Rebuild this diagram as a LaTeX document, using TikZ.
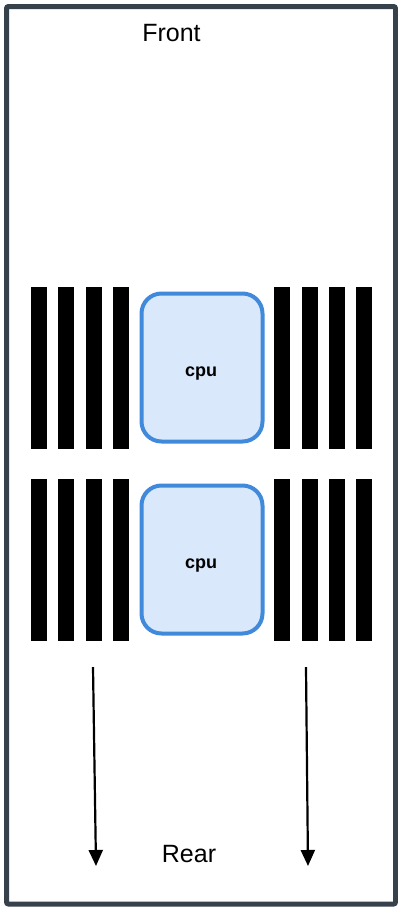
\documentclass[tikz,border=0pt]{standalone}
\usepackage{fontspec}
\setmainfont{Liberation Sans}
\usetikzlibrary{arrows.meta}
\definecolor{frameclr}{HTML}{36414C}
\definecolor{cpufill}{HTML}{DAE8FC}
\definecolor{cpuline}{HTML}{4189DB}
\tikzset{
  dimm/.style={fill=black, draw=none, minimum width=16pt, minimum height=162pt, inner sep=0pt, outer sep=0pt},
  cpubox/.style={draw=cpuline, fill=cpufill, line width=4pt, rounded corners=20pt,
    minimum width=121pt, minimum height=148pt, inner sep=0pt},
  cpulabel/.style={font=\bfseries\fontsize{18}{21}\selectfont, anchor=base, inner sep=0pt},
  sidelabel/.style={font=\fontsize{25}{29}\selectfont, anchor=base, inner sep=0pt},
  airflow/.style={line width=2.2pt, -{Triangle[length=16pt, width=14pt]}}
}
\begin{document}
\begin{tikzpicture}[x=1pt, y=-1pt]
  \useasboundingbox (0,0) rectangle (398,908);
  % chassis outline
  \draw[frameclr, line width=5pt, rounded corners=2pt] (6.5,6.5) rectangle (395.5,904);
  \node[sidelabel] (front) at (171.5,41.5) {Front};
  \node[sidelabel] (rear) at (189,862) {Rear};

  % upper socket with its memory slots
  \foreach \x [count=\i] in {39,66,94,121} \node[dimm] (ul\i) at (\x,368) {};
  \foreach \x [count=\i] in {282,310,337,364} \node[dimm] (ur\i) at (\x,368) {};
  \node[cpubox] (cpu1) at (202,367.5) {};
  \node[cpulabel] (cpu1txt) at (201,376) {cpu};

  % lower socket with its memory slots
  \foreach \x [count=\i] in {39,66,94,121} \node[dimm] (ll\i) at (\x,560) {};
  \foreach \x [count=\i] in {282,310,337,364} \node[dimm] (lr\i) at (\x,560) {};
  \node[cpubox] (cpu2) at (202,559.5) {};
  \node[cpulabel] (cpu2txt) at (201,568) {cpu};

  % airflow toward the rear
  \coordinate (a1s) at (93,667);
  \coordinate (a1e) at (96,866);
  \coordinate (a2s) at (306,667);
  \coordinate (a2e) at (308,866);
  \draw[airflow] (a1s) -- (a1e);
  \draw[airflow] (a2s) -- (a2e);
\end{tikzpicture}
\end{document}
